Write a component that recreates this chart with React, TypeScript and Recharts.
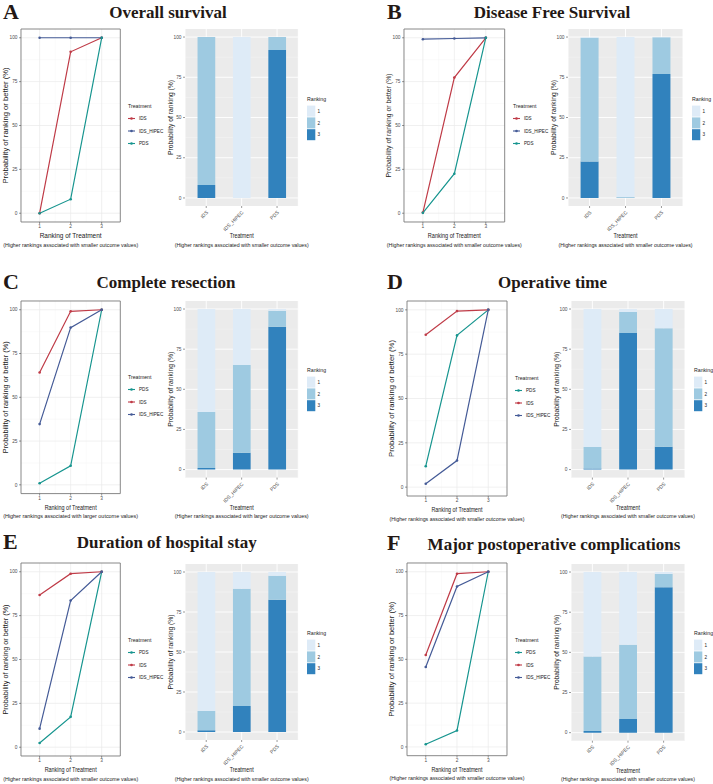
import React from 'react';
import {
  LineChart,
  Line,
  BarChart,
  Bar,
  XAxis,
  YAxis,
  CartesianGrid,
  ReferenceArea,
  Legend,
  Label,
} from 'recharts';

const treatments = ['IDS', 'IDS_HIPEC', 'PDS'];
const ranks = [1, 2, 3];
const rankLabels = ['1', '2', '3'];
const yTicks = [0, 25, 50, 75, 100];
const yMinor = [12.5, 37.5, 62.5, 87.5];
const xMinor = [1.5, 2.5];

const orderAB = ['IDS', 'IDS_HIPEC', 'PDS'];
const orderCF = ['PDS', 'IDS', 'IDS_HIPEC'];

// cumulative probability (%) of rank 1, <=2, <=3 ; rows follow `treatments`
// probability (%) of rank 1, 2, 3 ; rows follow `treatments`
const osCum = [[0, 92, 100], [100, 100, 100], [0, 8, 100]];
const osRank = [[0, 92, 8], [100, 0, 0], [0, 8, 92]];

const dfsCum = [[0.4, 77.3, 100], [99.2, 99.6, 100], [0.2, 22.5, 100]];
const dfsRank = [[0.4, 76.9, 22.7], [99.4, 0.4, 0.2], [0.2, 22.7, 77.1]];

const crCum = [[64.2, 99.1, 100], [34.7, 89.8, 100], [0.9, 10.9, 100]];
const crRank = [[64.2, 34.8, 1.0], [34.8, 54.8, 10.4], [1.0, 10.0, 89.0]];

const otCum = [[86.0, 99.3, 100], [1.9, 15.0, 100], [11.8, 85.6, 100]];
const otRank = [[86.0, 13.3, 0.7], [1.9, 13.1, 85.0], [11.9, 73.9, 14.2]];

const hsCum = [[86.8, 98.9, 100], [10.6, 83.6, 100], [2.4, 17.3, 100]];
const hsRank = [[86.8, 12.1, 1.1], [10.4, 73.4, 16.2], [2.3, 15.0, 82.7]];

const mcCum = [[52.5, 98.9, 100], [45.6, 91.6, 100], [1.5, 9.4, 100]];
const mcRank = [[52.6, 46.4, 1.0], [45.3, 46.2, 8.5], [1.2, 8.2, 90.6]];

const treatmentColors: Record<string, string> = {
  IDS: '#BF3B47',
  IDS_HIPEC: '#455B97',
  PDS: '#17958F',
};
const rankColors = ['#DEEBF7', '#9ECAE1', '#3182BD'];

const panels = [
  { letter: 'A', title: 'Overall survival', cum: osCum, rank: osRank, order: orderAB, note: 'smaller' },
  { letter: 'B', title: 'Disease Free Survival', cum: dfsCum, rank: dfsRank, order: orderAB, note: 'smaller' },
  { letter: 'C', title: 'Complete resection', cum: crCum, rank: crRank, order: orderCF, note: 'larger' },
  { letter: 'D', title: 'Operative time', cum: otCum, rank: otRank, order: orderCF, note: 'smaller' },
  { letter: 'E', title: 'Duration of hospital stay', cum: hsCum, rank: hsRank, order: orderCF, note: 'smaller' },
  { letter: 'F', title: 'Major postoperative complications', cum: mcCum, rank: mcRank, order: orderCF, note: 'smaller' },
];

// plot rectangles in page pixels
const layouts = [
  { lx: 3, ly: 19, tx: 168, ty: 17.5, line: { x: 20.7, y: 29, w: 99.3, h: 193 }, bar: { x: 185, y: 29, w: 113.3, h: 177 }, l1: 62, yl: 116 },
  { lx: 387, ly: 19, tx: 552, ty: 17.5, line: { x: 404.3, y: 29, w: 100.7, h: 193 }, bar: { x: 568.3, y: 29, w: 115, h: 177 }, l1: 53, yl: 104 },
  { lx: 3, ly: 289, tx: 166, ty: 288.3, line: { x: 20.7, y: 300.7, w: 99.3, h: 192.6 }, bar: { x: 185, y: 300.7, w: 113.3, h: 176.6 }, l1: 52, yl: 112 },
  { lx: 387, ly: 288.5, tx: 552.5, ty: 288.3, line: { x: 407, y: 300.7, w: 100, h: 195 }, bar: { x: 571, y: 300.7, w: 114, h: 176.6 }, l1: 51, yl: 117 },
  { lx: 3, ly: 549, tx: 166.7, ty: 548.3, line: { x: 20.7, y: 563, w: 99.3, h: 193 }, bar: { x: 185, y: 564, w: 113.3, h: 176 }, l1: 52, yl: 110 },
  { lx: 387, ly: 550, tx: 554, ty: 549.5, line: { x: 406.5, y: 563.3, w: 100, h: 192.7 }, bar: { x: 571, y: 564, w: 114, h: 176.7 }, l1: 51, yl: 115 },
];

const SANS = "'Liberation Sans', Arial, sans-serif";
const SERIF = "'Liberation Serif', 'Times New Roman', serif";
const TICK = { fontSize: 4.8, fill: '#4D4D4D' };
const TICKLINE = { stroke: '#333333', strokeWidth: 0.5 };

const ML = 30;
const MT = 4;

const FitText = ({ x, y, len, size, children, rotate }: any) => (
  <text
    x={rotate ? 0 : x}
    y={rotate ? 0 : y}
    transform={rotate ? `translate(${x},${y}) rotate(-90)` : undefined}
    textAnchor="middle"
    fontSize={size}
    fill="#1A1A1A"
    textLength={len}
    lengthAdjust="spacingAndGlyphs"
  >
    {children}
  </text>
);

const slantTick = (props: any) => {
  const { x, y, payload } = props;
  return (
    <g transform={`translate(${x},${y + 1.5})`}>
      <text x={0} y={0} dy={3.2} transform="rotate(-45)" textAnchor="end" fontSize={5} fill="#4D4D4D">
        {payload.value}
      </text>
    </g>
  );
};

const TreatmentLegend = ({ order }: any) => (
  <svg width={60} height={52}>
    <text x={1} y={8} fontSize={5.2} fill="#1A1A1A">Treatment</text>
    {order.map((t: string, i: number) => {
      const cy = 18.5 + i * 12.5;
      return (
        <g key={t}>
          <line x1={1} x2={8} y1={cy} y2={cy} stroke={treatmentColors[t]} strokeWidth={1.1} />
          <circle cx={4.5} cy={cy} r={1.3} fill={treatmentColors[t]} />
          <text x={12} y={cy + 1.7} fontSize={4.6} fill="#1A1A1A">{t}</text>
        </g>
      );
    })}
  </svg>
);

const RankingLegend = () => (
  <svg width={30} height={52}>
    <text x={1} y={8.6} fontSize={5.2} fill="#1A1A1A">Ranking</text>
    {rankLabels.map((r, i) => {
      const top = 13.6 + i * 11.8;
      return (
        <g key={r}>
          <rect x={1} y={top} width={8.3} height={11} fill={rankColors[i]} />
          <text x={11.5} y={top + 7.2} fontSize={4.6} fill="#1A1A1A">{r}</text>
        </g>
      );
    })}
  </svg>
);

const RankLine = ({ panel, lay }: any) => {
  const box = lay.line;
  const MB = 30;
  const MR = 60;
  const data = ranks.map((r, i) => {
    const row: any = { rank: r };
    treatments.forEach((t, j) => {
      row[t] = panel.cum[j][i];
    });
    return row;
  });
  const cx = ML + box.w / 2;
  const bottom = MT + box.h;
  const note = `(Higher rankings associated with ${panel.note} outcome values)`;

  return (
    <div style={{ position: 'absolute', left: box.x - ML, top: box.y - MT, fontFamily: SANS }}>
      <LineChart width={box.w + ML + MR} height={box.h + MT + MB} data={data} margin={{ top: MT, right: MR, bottom: 0, left: 0 }}>
        <CartesianGrid horizontalValues={yMinor} verticalValues={xMinor} stroke="#F3F3F3" strokeWidth={0.4} />
        <CartesianGrid horizontalValues={yTicks} verticalValues={ranks} stroke="#EAEAEA" strokeWidth={0.7} />
        <XAxis
          type="number"
          dataKey="rank"
          domain={[0.4, 3.6]}
          ticks={ranks}
          allowDataOverflow
          interval={0}
          height={MB}
          axisLine={false}
          tickSize={2}
          tickMargin={1}
          tick={TICK}
          tickLine={TICKLINE}
        >
          <Label
            content={() => (
              <g>
                <FitText x={cx} y={bottom + 16.3} len={lay.l1} size={6.4}>Ranking of Treatment</FitText>
                <FitText x={cx} y={bottom + 24.8} len={135} size={5.5}>{note}</FitText>
              </g>
            )}
          />
        </XAxis>
        <YAxis
          type="number"
          domain={[-5, 105]}
          ticks={yTicks}
          allowDataOverflow
          width={ML}
          axisLine={false}
          tickSize={2}
          tickMargin={1.5}
          tick={TICK}
          tickLine={TICKLINE}
        >
          <Label
            content={() => (
              <FitText x={ML - 15 + 2.3} y={MT + box.h / 2} len={lay.yl} size={6.6} rotate>
                Probability of ranking or better (%)
              </FitText>
            )}
          />
        </YAxis>
        <ReferenceArea x1={0.4} x2={3.6} y1={-5} y2={105} fill="none" stroke="#7A7A7A" strokeWidth={0.9} ifOverflow="visible" />
        {panel.order.map((t: string) => (
          <Line
            key={t}
            dataKey={t}
            stroke={treatmentColors[t]}
            strokeWidth={1.2}
            dot={{ r: 1.3, fill: treatmentColors[t], stroke: treatmentColors[t], strokeWidth: 0 }}
            isAnimationActive={false}
          />
        ))}
        <Legend
          layout="vertical"
          align="center"
          verticalAlign="middle"
          content={() => <TreatmentLegend order={panel.order} />}
          wrapperStyle={{ position: 'absolute', left: ML + box.w + 7, top: MT + box.h / 2 - 26, width: 60, height: 52 }}
        />
      </LineChart>
    </div>
  );
};

const RankBar = ({ panel, lay }: any) => {
  const box = lay.bar;
  const MB = 46;
  const MR = 28;
  const data = treatments.map((t, j) => ({
    treatment: t,
    r1: panel.rank[j][0],
    r2: panel.rank[j][1],
    r3: panel.rank[j][2],
  }));
  const pad = box.w / 32;
  const cx = ML + box.w / 2;
  const bottom = MT + box.h;
  const note = `(Higher rankings associated with ${panel.note} outcome values)`;

  return (
    <div style={{ position: 'absolute', left: box.x - ML, top: box.y - MT, fontFamily: SANS }}>
      <BarChart width={box.w + ML + MR} height={box.h + MT + MB} data={data} margin={{ top: MT, right: MR, bottom: 0, left: 0 }}>
        <CartesianGrid horizontalValues={yMinor} vertical={false} fill="#EBEBEB" stroke="#F7F7F7" strokeWidth={0.4} />
        <CartesianGrid horizontalValues={yTicks} stroke="#FFFFFF" strokeWidth={0.9} />
        <XAxis
          dataKey="treatment"
          type="category"
          padding={{ left: pad, right: pad }}
          interval={0}
          height={MB}
          axisLine={false}
          tickSize={2}
          tickMargin={1}
          tick={slantTick}
          tickLine={TICKLINE}
        >
          <Label
            content={() => (
              <g>
                <FitText x={cx} y={bottom + 32.3} len={24} size={6.4}>Treatment</FitText>
                <FitText x={cx} y={bottom + 40.8} len={134} size={5.5}>{note}</FitText>
              </g>
            )}
          />
        </XAxis>
        <YAxis
          type="number"
          domain={[-5, 105]}
          ticks={yTicks}
          allowDataOverflow
          width={ML}
          axisLine={false}
          tickSize={2}
          tickMargin={1.5}
          tick={TICK}
          tickLine={TICKLINE}
        >
          <Label
            content={() => (
              <FitText x={ML - 14.3 + 2.3} y={MT + box.h / 2} len={75} size={6.6} rotate>
                Probability of ranking (%)
              </FitText>
            )}
          />
        </YAxis>
        <Bar dataKey="r3" stackId="s" fill={rankColors[2]} barSize={box.w / 6.4} isAnimationActive={false} />
        <Bar dataKey="r2" stackId="s" fill={rankColors[1]} barSize={box.w / 6.4} isAnimationActive={false} />
        <Bar dataKey="r1" stackId="s" fill={rankColors[0]} barSize={box.w / 6.4} isAnimationActive={false} />
        <Legend
          layout="vertical"
          align="center"
          verticalAlign="middle"
          content={() => <RankingLegend />}
          wrapperStyle={{ position: 'absolute', left: ML + box.w + 7.5, top: MT + box.h / 2 - 26, width: 20, height: 52 }}
        />
      </BarChart>
    </div>
  );
};

export default function App() {
  return (
    <div style={{ position: 'absolute', left: 0, top: 0, width: 713, height: 784, background: '#FFFFFF', overflow: 'hidden' }}>
      <svg width={713} height={784} style={{ position: 'absolute', left: 0, top: 0 }}>
        {panels.map((p, i) => (
          <g key={p.letter} fontFamily={SERIF} fontWeight="bold" fill="#231815">
            <text x={layouts[i].lx} y={layouts[i].ly} fontSize={22}>{p.letter}</text>
            <text x={layouts[i].tx} y={layouts[i].ty} fontSize={17} textAnchor="middle">{p.title}</text>
          </g>
        ))}
      </svg>
      {panels.map((p, i) => (
        <React.Fragment key={p.letter}>
          <RankLine panel={p} lay={layouts[i]} />
          <RankBar panel={p} lay={layouts[i]} />
        </React.Fragment>
      ))}
    </div>
  );
}
